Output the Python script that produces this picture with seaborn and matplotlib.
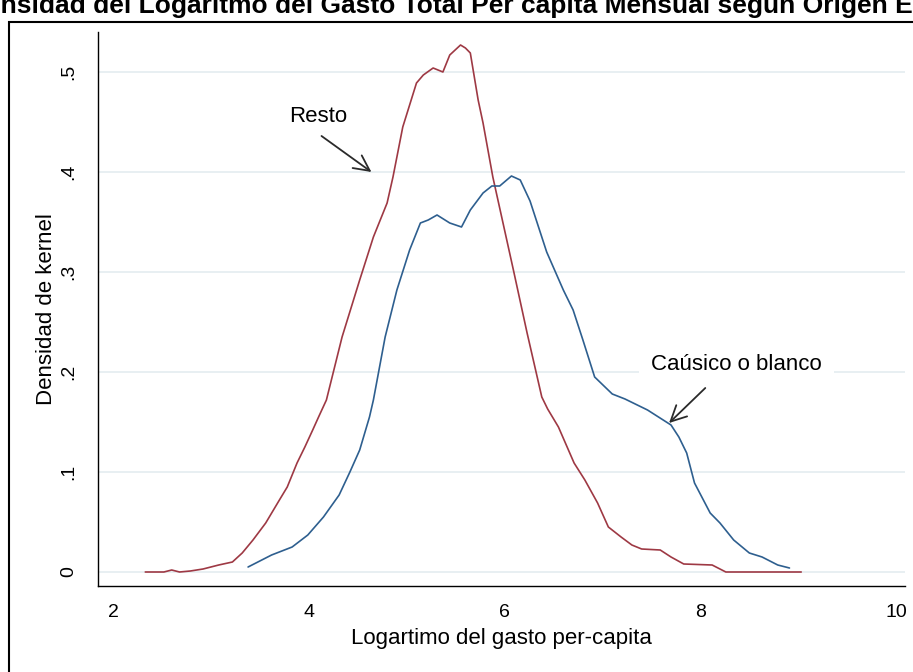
import matplotlib
matplotlib.use("Agg")
import numpy as np
import pandas as pd
import seaborn as sns
import matplotlib.pyplot as plt
from matplotlib.patches import Rectangle

# ---- data ----
resto_x = [2.33, 2.52, 2.60, 2.68, 2.79, 2.92, 3.08, 3.22, 3.32, 3.43,
           3.56, 3.70, 3.78, 3.88, 3.96, 4.04, 4.10, 4.18, 4.34, 4.52,
           4.66, 4.80, 4.86, 4.96, 5.10, 5.17, 5.27, 5.37, 5.44, 5.55,
           5.60, 5.65, 5.73, 5.78, 5.88, 6.09, 6.23, 6.38, 6.44, 6.55,
           6.71, 6.82, 6.95, 7.06, 7.19, 7.30, 7.40, 7.59, 7.70, 7.83,
           8.12, 8.26, 9.03]
resto_y = [0.000, 0.000, 0.002, 0.000, 0.001, 0.003, 0.007, 0.010, 0.019, 0.032,
           0.049, 0.072, 0.085, 0.109, 0.125, 0.142, 0.155, 0.172, 0.235, 0.292,
           0.335, 0.369, 0.395, 0.445, 0.489, 0.497, 0.504, 0.500, 0.517, 0.527,
           0.524, 0.519, 0.472, 0.449, 0.395, 0.302, 0.239, 0.175, 0.163, 0.145,
           0.109, 0.092, 0.069, 0.045, 0.035, 0.027, 0.023, 0.022, 0.015, 0.008,
           0.007, 0.000, 0.000]

blanco_x = [3.38, 3.62, 3.83, 3.99, 4.15, 4.31, 4.42, 4.52, 4.62, 4.66,
            4.78, 4.90, 5.03, 5.14, 5.22, 5.31, 5.44, 5.56, 5.65, 5.78,
            5.87, 5.95, 6.07, 6.16, 6.26, 6.43, 6.60, 6.70, 6.80, 6.92,
            7.10, 7.23, 7.46, 7.62, 7.70, 7.78, 7.86, 7.94, 8.10, 8.20,
            8.34, 8.50, 8.63, 8.79, 8.91]
blanco_y = [0.005, 0.017, 0.025, 0.037, 0.055, 0.077, 0.100, 0.122, 0.155, 0.172,
            0.235, 0.282, 0.322, 0.349, 0.352, 0.357, 0.349, 0.345, 0.362, 0.379,
            0.386, 0.386, 0.396, 0.392, 0.371, 0.320, 0.282, 0.262, 0.232, 0.195,
            0.178, 0.173, 0.162, 0.152, 0.147, 0.135, 0.119, 0.089, 0.059, 0.049,
            0.032, 0.019, 0.015, 0.007, 0.004]

series_names = ["Resto", "Caúsico o blanco"]
x_ticks = [2, 4, 6, 8, 10]
y_ticks = [0, 0.1, 0.2, 0.3, 0.4, 0.5]
y_tick_labels = ["0", ".1", ".2", ".3", ".4", ".5"]
title = "Densidad del Logaritmo del Gasto Total Per capita Mensual según Origen Étnico"
xlabel = "Logartimo del gasto per-capita"
ylabel = "Densidad de kernel"

df = pd.concat([
    pd.DataFrame({"x": resto_x, "y": resto_y, "grupo": series_names[0]}),
    pd.DataFrame({"x": blanco_x, "y": blanco_y, "grupo": series_names[1]}),
])

sns.set_theme(style="white")
plt.rcParams["font.family"] = ["Liberation Sans", "DejaVu Sans"]

W, H = 913, 672
fig = plt.figure(figsize=(W / 100, H / 100), dpi=100)
fig.patch.set_facecolor("white")
ax = fig.add_axes([98 / W, 86 / H, (905 - 98) / W, (586 - 32) / H])
ax.set_facecolor("white")

palette = {series_names[0]: "#9e3944", series_names[1]: "#2e5f8f"}
sns.lineplot(data=df, x="x", y="y", hue="grupo", palette=palette, ax=ax,
             legend=False, linewidth=1.2, sort=False, estimator=None, zorder=3)

ax.set_xlim(1.847, 10.09)
ax.set_ylim(-0.014, 0.540)
ax.set_xticks(x_ticks)
ax.set_xticklabels([str(v) for v in x_ticks])
ax.set_yticks(y_ticks)
ax.set_yticklabels(y_tick_labels, rotation=90, va="center")
ax.yaxis.grid(True, color="#e6eef1", linewidth=1.3)
ax.xaxis.grid(False)
ax.set_axisbelow(True)
for s in ["top", "right"]:
    ax.spines[s].set_visible(False)
for s in ["left", "bottom"]:
    ax.spines[s].set_color("black")
    ax.spines[s].set_linewidth(1.0)
ax.tick_params(axis="both", direction="out", length=7, width=1, color="black",
               labelsize=14, labelcolor="black")
ax.tick_params(axis="y", pad=8)
ax.tick_params(axis="x", pad=6)
ax.set_xlabel(xlabel, fontsize=16, color="black", labelpad=5)
ax.set_ylabel(ylabel, fontsize=16, color="black", labelpad=2)

arrow_kw = dict(arrowstyle="->,head_length=0.7,head_width=0.35", color="#2a2a2a",
                lw=1.3, shrinkA=0, shrinkB=0, mutation_scale=16)
ax.annotate("", xy=(4.64, 0.400), xytext=(4.13, 0.436), arrowprops=arrow_kw, zorder=5)
ax.text(4.10, 0.4555, "Resto", ha="center", va="center", fontsize=16, color="black", zorder=5)
ax.annotate("", xy=(7.68, 0.149), xytext=(8.05, 0.184), arrowprops=arrow_kw, zorder=5)
ax.text(8.37, 0.208, "Caúsico o blanco", ha="center", va="center", fontsize=16,
        color="black", zorder=4,
        bbox=dict(boxstyle="square,pad=0.55", facecolor="white", edgecolor="none"))

# outer graph frame (cropped: only left and top edges visible)
fig.patches.append(Rectangle((8.5 / W, -0.2), 2.0, 0.2 + 1 - 22 / H,
                             transform=fig.transFigure, fill=False,
                             edgecolor="black", linewidth=1.5, zorder=10))

# title, cropped at both sides like the reference
renderer = fig.canvas.get_renderer()
fs = 19.0
probe = fig.text(0, 0, "De", fontsize=fs, fontweight="bold")
w_de = probe.get_window_extent(renderer).width
probe.remove()
fig.text((1 - w_de) / W, 1 - 13 / H, title, fontsize=fs, fontweight="bold",
         color="black", ha="left", va="baseline")

fig.savefig("out.png", dpi=100, facecolor="white")
